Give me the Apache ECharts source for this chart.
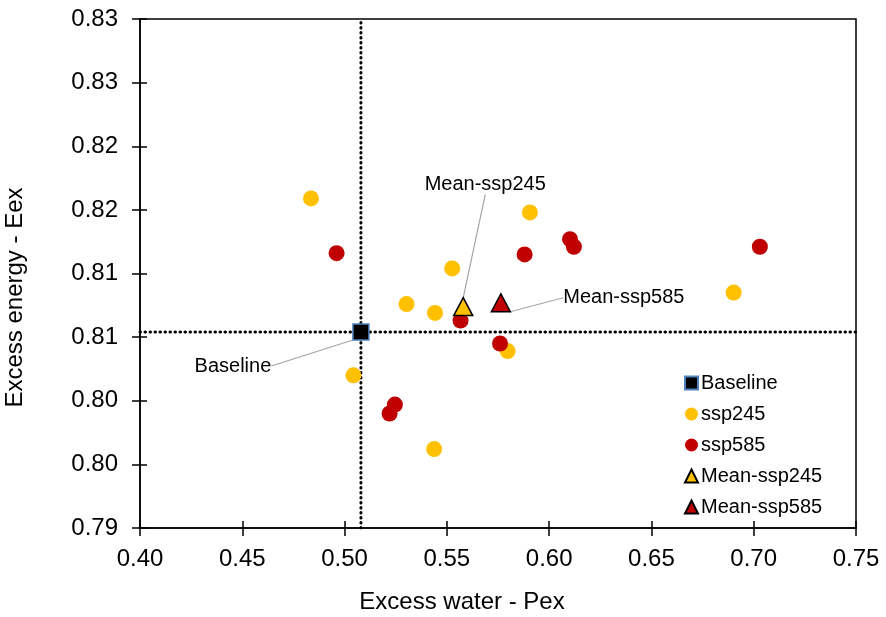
<!DOCTYPE html>
<html>
<head>
<meta charset="UTF-8">
<title>Pex vs Eex</title>
<script src="https://cdn.jsdelivr.net/npm/echarts@6/dist/echarts.min.js"></script>
<style>
  html, body { margin: 0; padding: 0; background: #fff; }
  #main { width: 886px; height: 617px; }
</style>
</head>
<body>
<div id="main"></div>
<script>
// values
const baselineX = [0.508];
const baselineY = [0.8054];

const ssp245X = [0.4836, 0.5906, 0.5526, 0.5303, 0.5442, 0.5797, 0.5043, 0.5438, 0.6902];
const ssp245Y = [0.8159, 0.8148, 0.8104, 0.8076, 0.8069, 0.8039, 0.8020, 0.7962, 0.8085];

const ssp585X = [0.4961, 0.6102, 0.6121, 0.5880, 0.7030, 0.5567, 0.5760, 0.5246, 0.5220];
const ssp585Y = [0.8116, 0.8127, 0.8121, 0.8115, 0.8121, 0.8063, 0.8045, 0.7997, 0.7990];

const mean245X = [0.558];
const mean245Y = [0.8074];
const mean585X = [0.5764];
const mean585Y = [0.8077];

// axis ranges
const xRange = [0.4, 0.75];
const yRange = [0.79, 0.83];

// Excel-style 2-decimal tick labels (ticks every 0.005)
const yTickLabels = ['0.79', '0.80', '0.80', '0.81', '0.81', '0.82', '0.82', '0.83', '0.83'];
const xTickLabels = ['0.40', '0.45', '0.50', '0.55', '0.60', '0.65', '0.70', '0.75'];

function zip(xs, ys) {
  return xs.map((x, i) => [x, ys[i]]);
}

const font = 'Arial, "Liberation Sans", sans-serif';
const leader = { show: true, lineStyle: { color: '#a6a6a6', width: 1.2 } };
const labelText = { show: true, position: 'inside', color: '#000', fontSize: 20, fontFamily: font };
const dotted = { color: '#000', width: 3, type: [0.5, 4.5], cap: 'round' };
const axisLineStyle = { color: '#000', width: 1.5 };

// the chart's ticks cross the axis: a second, label-less axis adds the inner half
function innerTickAxis(range, interval, pos) {
  return {
    type: 'value', position: pos,
    min: range[0], max: range[1], interval: interval,
    axisLine: { show: false },
    axisTick: { show: true, inside: true, length: 7, lineStyle: axisLineStyle },
    axisLabel: { show: false },
    splitLine: { show: false }
  };
}

let chart = echarts.init(document.getElementById('main'));
let option = {
  animation: false,
  textStyle: { fontFamily: font },
  grid: {
    left: 140, right: 30, top: 19, bottom: 89,
    outerBoundsMode: 'none',
    containLabel: false,
    show: true, borderColor: '#000', borderWidth: 1.5
  },
  legend: {
    orient: 'vertical',
    left: 684, top: 368,
    padding: [5, 5, 5, 0],
    itemWidth: 13, itemHeight: 13, itemGap: 11,
    textStyle: { fontSize: 20, color: '#000', lineHeight: 20, padding: [0, 0, 0, -2] },
    data: [
      { name: 'Baseline', icon: 'rect' },
      { name: 'ssp245', icon: 'circle' },
      { name: 'ssp585', icon: 'circle' },
      { name: 'Mean-ssp245', icon: 'triangle' },
      { name: 'Mean-ssp585', icon: 'triangle' }
    ]
  },
  xAxis: [
    {
      type: 'value', position: 'bottom',
      min: xRange[0], max: xRange[1], interval: 0.05,
      name: 'Excess water - Pex',
      nameLocation: 'middle',
      nameGap: 62,
      nameTextStyle: { fontSize: 24, color: '#000', padding: [0, 72, 0, 0] },
      axisLine: { show: true, lineStyle: axisLineStyle },
      axisTick: { show: true, length: 8, lineStyle: axisLineStyle },
      axisLabel: {
        fontSize: 24, color: '#000', margin: 19,
        formatter: (v, i) => xTickLabels[i]
      },
      splitLine: { show: false }
    },
    innerTickAxis(xRange, 0.05, 'bottom')
  ],
  yAxis: [
    {
      type: 'value', position: 'left',
      min: yRange[0], max: yRange[1], interval: 0.005,
      name: 'Excess energy - Eex',
      nameLocation: 'middle',
      nameGap: 113,
      nameTextStyle: { fontSize: 24, color: '#000', padding: [0, 48, 0, 0] },
      axisLine: { show: true, lineStyle: axisLineStyle },
      axisTick: { show: true, length: 8, lineStyle: axisLineStyle },
      axisLabel: {
        fontSize: 24, color: '#000', margin: 22,
        formatter: (v, i) => yTickLabels[i]
      },
      splitLine: { show: false }
    },
    innerTickAxis(yRange, 0.005, 'left')
  ],
  series: [
    {
      name: 'refX',
      type: 'line',
      z: 1,
      silent: true,
      symbol: 'none',
      lineStyle: dotted,
      data: [[baselineX[0], yRange[0]], [baselineX[0], yRange[1]]]
    },
    {
      name: 'refY',
      type: 'line',
      z: 1,
      silent: true,
      symbol: 'none',
      lineStyle: dotted,
      data: [[xRange[0], baselineY[0]], [xRange[1], baselineY[0]]]
    },
    {
      name: 'Baseline',
      type: 'scatter',
      z: 3,
      symbol: 'rect',
      symbolSize: 16,
      itemStyle: { color: '#000', borderColor: '#4f81bd', borderWidth: 1.5, opacity: 1 },
      data: zip(baselineX, baselineY),
      label: Object.assign({}, labelText, { formatter: 'Baseline' }),
      labelLayout: { dx: -128, dy: 34 },
      labelLine: leader
    },
    {
      name: 'ssp245',
      type: 'scatter',
      z: 2,
      symbolSize: 16,
      itemStyle: { color: '#ffc000', opacity: 1 },
      data: zip(ssp245X, ssp245Y)
    },
    {
      name: 'ssp585',
      type: 'scatter',
      z: 2,
      symbolSize: 16,
      itemStyle: { color: '#c00000', opacity: 1 },
      data: zip(ssp585X, ssp585Y)
    },
    {
      name: 'Mean-ssp245',
      type: 'scatter',
      z: 3,
      symbol: 'triangle',
      symbolSize: [19, 18],
      itemStyle: { color: '#ffc000', borderColor: '#000', borderWidth: 1.5, opacity: 1 },
      data: zip(mean245X, mean245Y),
      label: Object.assign({}, labelText, { formatter: 'Mean-ssp245' }),
      labelLayout: { dx: 22, dy: -122 },
      labelLine: leader
    },
    {
      name: 'Mean-ssp585',
      type: 'scatter',
      z: 3,
      symbol: 'triangle',
      symbolSize: [19, 18],
      itemStyle: { color: '#c00000', borderColor: '#000', borderWidth: 1.5, opacity: 1 },
      data: zip(mean585X, mean585Y),
      label: Object.assign({}, labelText, { formatter: 'Mean-ssp585' }),
      labelLayout: { dx: 123, dy: -5 },
      labelLine: leader
    }
  ]
};
chart.setOption(option);
</script>
</body>
</html>
